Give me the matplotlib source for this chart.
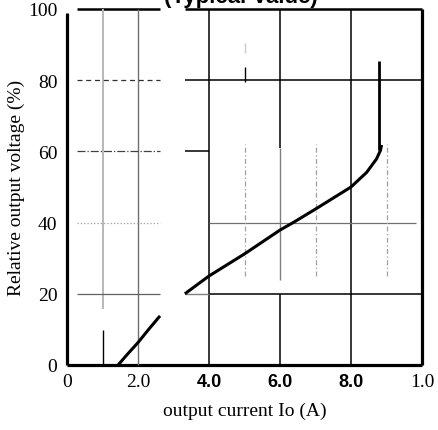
import matplotlib
matplotlib.use("Agg")
import matplotlib.pyplot as plt

# characteristic curve
seg1_x = [1.44, 1.7, 2.0, 2.3, 2.62]
seg1_y = [0.0, 3.0, 6.3, 10.0, 13.8]
seg2_x = [3.32, 4.0, 5.0, 6.0, 6.37, 7.0, 8.0, 8.44, 8.72, 8.83, 8.86]
seg2_y = [20.0, 25.0, 31.2, 37.9, 40.0, 43.8, 50.0, 54.1, 57.9, 60.3, 61.8]
# vertical step near the end of the curve
step_x = 8.79
step_y = [60.5, 85.5]

y_ticks = [0, 20, 40, 60, 80, 100]
y_labels = ["0", "20", "40", "60", "80", "100"]
x_ticks = [0, 2, 4, 6, 8, 10]
x_labels = ["0", "2.0", "4.0", "6.0", "8.0", "1.0"]
bold_x = ["4.0", "6.0", "8.0"]

fig = plt.figure(figsize=(4.38, 4.31), dpi=100)
ax = fig.add_axes([67 / 438, 65 / 431, 355 / 438, 356 / 431])
ax.set_xlim(0, 10)
ax.set_ylim(0, 100)
for s in ax.spines.values():
    s.set_visible(False)

def seg(x, y, **kw):
    kw.setdefault("color", "black")
    kw.setdefault("lw", 1.0)
    ax.plot(x, y, clip_on=False, solid_capstyle="butt", **kw)

# frame
seg([0, 0], [0, 99], lw=2.3)
seg([0, 10], [0, 0], lw=2.3)
seg([10, 10], [0, 100], lw=2.3)
seg([0.28, 2.62], [100, 100], lw=1.8)
seg([3.32, 10], [100, 100], lw=1.8)

# left (washed-out) grid
seg([1, 1], [15.7, 100], color="#b8b8b8", lw=1.4)
seg([1, 1], [0, 9.8], lw=1.0)
seg([2, 2], [0, 100], color="#707070", lw=1.0)
seg([0.28, 2.62], [80, 80], color="#303030", lw=0.9, ls=(0, (4, 3)))
seg([0.28, 2.62], [60, 60], color="#404040", lw=0.9, ls="-.")
seg([0.28, 2.62], [40, 40], color="#a0a0a0", lw=0.9, ls=":")
seg([0.28, 2.62], [20, 20], color="#606060", lw=0.9)

# right grid
for xv in [4, 8]:
    seg([xv, xv], [0, 100], lw=1.1)
seg([6, 6], [61, 100], lw=1.1)
seg([6, 6], [24, 61], color="#808080", lw=1.0)
seg([6, 6], [0, 20], lw=1.1)
seg([3.32, 10], [80, 80], lw=1.1)
seg([3.32, 4], [60, 60], lw=1.1)
seg([4, 9.83], [40, 40], color="#707070", lw=0.9)
seg([4, 10], [20, 20], lw=1.1)
seg([3.32, 4], [20, 20], color="#808080", lw=1.0)
for xv in [5, 7, 9]:
    seg([xv, xv], [25, 62], color="#a0a0a0", lw=0.9, ls=(0, (4, 2, 1, 2)))
seg([5, 5], [79.5, 83.7], lw=1.0)
seg([5, 5], [87.6, 90.5], color="#c8c8c8", lw=1.0)

# curve
seg(seg1_x, seg1_y, lw=2.2)
seg(seg2_x, seg2_y, lw=2.2)
seg([step_x, step_x], step_y, lw=2.0)

# ticks
serif = "Liberation Serif"
ax.set_yticks(y_ticks)
ax.set_yticklabels(y_labels, family=serif, fontsize=14)
ax.set_xticks(x_ticks)
ax.set_xticklabels(x_labels, family=serif, fontsize=14)
for lab in ax.get_xticklabels():
    if lab.get_text() in bold_x:
        lab.set_family("Liberation Sans")
        lab.set_fontweight("bold")
        lab.set_fontsize(13)
ax.tick_params(axis="both", length=0)
ax.tick_params(axis="y", pad=7)
ax.tick_params(axis="x", pad=6)

ax.set_xlabel("output current Io (A)", family=serif, fontsize=14, labelpad=8)
ax.set_ylabel("Relative output voltage (%)", family=serif, fontsize=14, labelpad=2)

# title is cropped at the top edge in the original scan
fig.text(241 / 438, 1 - 2.5 / 431, "(Typical Value)", ha="center", va="baseline",
         family="Liberation Sans", fontweight="bold", fontsize=16)

fig.savefig("out.png", dpi=100)
